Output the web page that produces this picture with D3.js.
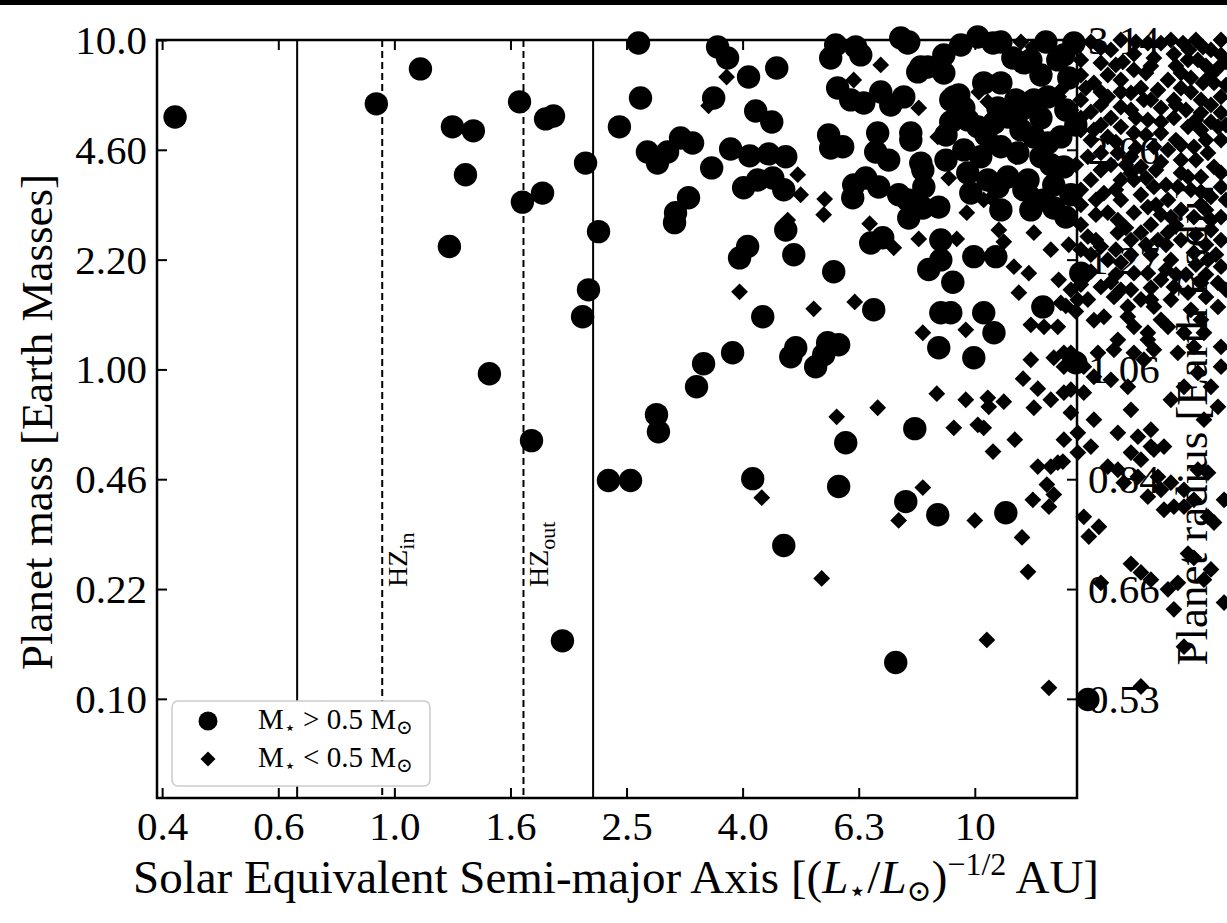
<!DOCTYPE html>
<html>
<head>
<meta charset="utf-8">
<script src="https://cdn.jsdelivr.net/npm/d3@7"></script>
<style>
  html, body { margin: 0; padding: 0; background: #fff; }
  svg { display: block; }
</style>
</head>
<body>
<svg id="chart" width="1227" height="923"></svg>
<script>
// ---- axis ticks ----
const xTickValues = [0.398, 0.631, 1.0, 1.585, 2.512, 3.981, 6.31, 10.0];
const xTickLabels = ["0.4", "0.6", "1.0", "1.6", "2.5", "4.0", "6.3", "10"];
const massTickValues = [0.1, 0.2154, 0.4642, 1.0, 2.154, 4.642, 10.0];
const massTickLabels = ["0.10", "0.22", "0.46", "1.00", "2.20", "4.60", "10.0"];
const radiusTickLabels = ["0.53", "0.66", "0.84", "1.06", "1.27", "2.06", "3.14"];

// ---- reference orbits (solar-equivalent AU) ----
const solidLines = [0.68, 2.2];
const hzLines = [0.953, 1.669];
const hzNames = ["in", "out"];

// ---- planets around hosts with M* > 0.5 Msun: [a_eq (AU), mass (Earth)] ----
const massiveHostPlanets = [
  [0.419,5.84],[0.931,6.40],[1.109,8.17],[1.259,5.45],[1.368,5.30],[1.326,3.90],[1.244,2.36],[1.458,0.97],
  [1.643,6.49],[1.662,3.22],[1.723,0.608],[1.822,5.76],[1.880,5.88],[1.800,3.43],[1.948,0.150],[2.135,4.23],
  [2.248,2.62],[2.160,1.744],[2.110,1.445],[2.338,0.460],[2.552,0.460],[2.634,9.79],[2.655,6.67],[2.442,5.45],
  [2.729,4.57],[2.840,4.23],[2.956,4.57],[3.112,5.04],[3.264,4.87],[3.212,3.32],[3.051,2.99],[3.039,2.79],
  [3.521,4.09],[3.605,9.52],[3.750,8.82],[3.549,6.67],[4.076,7.72],[4.558,8.22],[4.193,6.09],[4.469,5.64],
  [3.796,4.67],[4.095,4.45],[4.415,4.51],[4.724,4.42],[3.997,3.56],[4.226,3.76],[4.487,3.81],[4.687,3.51],
  [4.724,2.65],[4.061,2.36],[3.933,2.18],[4.877,2.23],[4.312,1.445],[5.714,1.98],[3.826,1.123],[3.410,1.040],
  [3.316,0.886],[2.829,0.729],[2.851,0.647],[4.915,1.163],[4.819,1.092],[5.578,1.205],[5.827,1.188],[5.491,1.108],
  [5.319,1.019],[4.144,0.466],[4.687,0.292],[5.827,0.441],[5.993,0.599],[6.697,1.517],[7.882,0.661],[7.605,0.397],
  [8.634,0.362],[11.31,0.367],[7.308,0.1289],[15.66,0.0995],[5.759,9.66],[5.646,8.82],[6.235,9.52],[6.361,9.01],
  [7.456,10.14],[7.695,9.86],[5.804,7.15],[6.113,6.58],[6.437,6.44],[6.886,6.95],[7.165,6.35],[7.545,6.72],
  [7.975,8.00],[8.298,8.28],[8.844,9.01],[9.092,6.58],[9.383,6.81],[10.12,10.21],[10.75,9.79],[5.600,5.15],
  [5.646,4.70],[5.922,4.74],[6.803,5.22],[6.750,4.57],[7.106,4.32],[7.758,4.97],[8.137,4.03],[6.186,3.63],
  [6.488,3.81],[6.830,3.58],[7.394,3.39],[6.162,3.32],[7.695,2.88],[8.137,3.09],[8.668,3.11],[6.618,2.42],
  [6.941,2.51],[8.739,2.47],[8.739,2.15],[8.330,2.01],[9.165,1.84],[8.739,1.486],[9.092,1.486],[8.668,1.163],
  [9.961,2.20],[10.87,2.20],[10.36,1.486],[10.79,1.292],[9.961,1.085],[13.10,1.548],[13.68,3.09],[14.35,2.90],
  [14.24,4.12],[12.15,8.52],[7.665,9.79],[8.072,8.28],[8.844,7.94],[9.201,6.72],[10.36,7.41],[9.725,5.72],
  [10.12,5.45],[10.79,5.60],[11.40,5.84],[12.01,5.33],[12.64,5.08],[13.36,4.87],[14.07,5.08],[9.574,4.64],
  [10.24,4.42],[11.09,4.74],[11.86,4.54],[13.00,4.42],[9.725,3.95],[10.53,3.76],[11.40,3.84],[12.35,3.76],
  [9.843,3.43],[10.96,3.58],[12.15,3.51],[13.16,3.27],[14.82,9.79],[14.24,9.01],[15.23,1.96],[14.93,1.048],
  [7.758,5.22],[8.072,4.23],[8.169,3.58],[7.665,3.27],[13.36,6.72],[11.09,7.41],[13.90,8.70],[12.49,8.70],
  [11.09,9.86],[9.46,9.66],[13.26,9.86],[11.63,8.82],[13.00,7.83],[14.52,7.67],[11.77,6.58],[12.64,6.58],
  [14.35,6.13],[14.93,5.52],[9.09,5.64],[8.92,4.32],[13.68,3.63],[14.64,3.39],[11.09,3.05],[12.49,3.05],
  [9.574,6.22],[10.96,6.22],[13.00,5.80],[10.45,5.15],[13.52,4.18],[12.01,6.13],[8.92,5.15]
];

// ---- planets around hosts with M* < 0.5 Msun: [a_eq (AU), mass (Earth)] ----
const dwarfHostPlanets = [
  [3.736,7.72],[3.478,6.31],[4.954,3.90],[5.012,3.39],[5.513,3.29],[5.491,2.95],[4.761,2.84],[6.590,2.77],
  [7.251,2.34],[8.006,2.49],[8.634,5.08],[9.019,3.81],[9.687,2.99],[9.310,2.49],[11.00,2.65],[11.22,2.44],
  [12.64,2.60],[11.68,2.05],[12.39,1.96],[11.91,1.71],[14.35,1.56],[8.137,1.292],[9.649,1.319],[3.933,1.720],
  [5.278,1.527],[6.211,1.603],[8.601,0.844],[6.886,8.40],[6.186,7.56],[8.006,6.22],[10.53,6.49],[13.16,7.89],
  [12.01,9.86],[12.59,9.52],[13.95,6.72],[14.07,8.70],[13.00,4.57],[12.15,3.71],[12.59,3.46],[11.77,4.42],
  [10.53,4.74],[10.36,3.27],[10.66,3.32],[10.16,6.95],[9.649,0.809],[10.53,0.820],[10.57,0.770],[12.49,1.070],
  [12.11,0.937],[12.84,0.874],[13.52,0.809],[14.24,0.850],[12.64,0.765],[5.782,0.718],[6.803,0.765],[9.201,0.665],
  [10.12,0.679],[10.36,0.665],[11.72,0.612],[10.75,0.563],[12.84,0.507],[13.52,0.507],[14.18,0.525],[13.31,0.447],
  [13.68,0.417],[12.59,0.402],[13.42,0.383],[8.137,0.438],[4.295,0.408],[7.394,0.348],[10.00,0.348],[12.06,0.309],
  [12.35,0.243],[5.448,0.232],[10.49,0.151],[13.42,0.108],[12.49,1.366],[13.16,1.347],[13.90,1.347],[13.68,1.085],
  [14.24,1.123],[11.22,0.798],[13.52,2.31],[14.52,2.39],[13.95,1.87],[14.64,1.744],
  [26.56,10.0],[26.56,9.01],[26.24,8.22],[24.73,9.52],[24.23,8.70],[22.84,9.79],[23.30,8.70],[22.03,9.06],
  [20.93,9.79],[20.35,8.82],[19.87,9.79],[18.80,9.06],[17.99,8.58],[18.80,8.11],[17.16,9.33],[16.49,8.52],
  [16.95,7.83],[25.83,7.41],[24.73,7.41],[26.56,6.72],[23.57,6.95],[22.03,6.58],[21.52,7.56],[20.68,7.05],
  [19.56,6.58],[18.58,6.91],[17.85,6.26],[16.95,6.72],[16.04,7.41],[15.23,6.58],[14.64,6.13],[14.07,7.05],
  [26.56,6.01],[26.24,5.45],[24.53,6.01],[23.30,5.45],[22.03,5.80],[20.93,5.22],[19.87,5.72],[18.80,5.22],
  [17.85,5.45],[16.95,5.08],[16.04,5.33],[26.56,4.97],[25.22,4.54],[23.85,4.74],[22.66,4.32],[21.52,4.64],
  [20.35,4.74],[19.33,4.12],[18.58,4.42],[17.64,4.54],[16.49,4.54],[15.66,4.42],[25.83,4.12],[24.53,3.84],
  [26.56,3.58],[25.52,3.34],[23.30,3.84],[22.38,3.58],[21.52,3.27],[20.35,3.58],[18.80,3.76],[17.85,3.76],
  [16.69,3.43],[19.87,3.11],[18.80,2.99],[17.64,2.84],[16.95,2.99],[26.56,2.90],[25.52,2.65],[23.85,2.90],
  [21.52,2.60],[22.66,2.47],[20.68,2.47],[19.33,2.60],[18.58,2.47],[17.64,2.60],[16.49,2.36],[15.66,2.53],
  [16.95,2.15],[17.85,2.11],[18.80,1.96],[19.87,1.96],[20.93,1.87],[22.03,1.78],[23.30,1.71],[24.53,1.83],
  [26.24,1.83],[26.56,2.05],[25.22,2.15],[23.85,2.26],[16.49,1.78],[17.37,1.66],[18.35,1.55],[19.33,1.63],
  [20.35,1.55],[15.66,1.63],[16.04,1.41],[16.69,1.445],[18.80,1.347],[19.87,1.292],[21.52,1.347],[22.93,1.292],
  [24.53,1.414],[26.24,1.548],[26.56,1.171],[23.85,1.171],[22.38,1.123],[20.35,1.147],[18.80,1.123],[17.37,1.147],
  [14.07,1.592],[15.05,1.626],[18.58,1.744],[18.35,1.445],[20.11,1.626],[20.93,1.414],[19.87,1.230],[23.57,1.517],
  [24.82,1.292],[26.56,1.019],[24.23,0.977],[25.52,0.886],[26.24,0.770],[24.82,0.704],[17.64,1.230],[19.56,1.070],
  [16.30,1.123],[15.41,1.019],[14.64,1.123],[14.24,1.019],[17.16,0.930],[16.04,0.950],[18.35,0.886],[14.64,0.868],
  [15.41,0.850],[14.64,0.739],[16.04,0.704],[18.58,0.754],[17.64,0.642],[19.10,0.625],[20.11,0.656],[20.11,0.583],
  [15.05,0.642],[14.24,0.612],[15.05,0.559],[22.93,0.886],[21.77,0.809],
  [13.90,0.521],[15.85,0.583],[16.95,0.507],[17.64,0.496],[18.58,0.559],[18.06,0.453],[19.10,0.472],[19.33,0.532],
  [20.35,0.571],[21.18,0.583],[19.87,0.411],[20.93,0.431],[21.18,0.375],[22.03,0.383],[22.93,0.383],[23.85,0.402],
  [20.68,0.472],[21.77,0.453],[22.93,0.431],[25.22,0.486],[24.23,0.496],[25.83,0.343],[25.22,0.357],[26.88,0.402],
  [15.41,0.357],[16.36,0.333],[15.72,0.311],[18.58,0.257],[19.33,0.242],[20.11,0.230],[16.49,0.225],[21.52,0.215],
  [22.38,0.225],[22.03,0.187],[23.30,0.276],[23.85,0.268],[25.52,0.247],[24.82,0.230],[22.93,0.144],[26.88,0.196],
  [19.33,0.109],
  [15.85,9.86],[17.85,10.0],[24.04,10.0],[25.52,9.33],[19.72,7.94],[22.66,7.94],[17.85,7.56],[15.23,7.83],
  [25.52,7.83],[16.49,6.95],[19.33,7.15],[22.66,7.15],[24.53,6.58],[15.85,6.05],[17.16,5.80],[18.95,5.80],
  [20.93,6.22],[23.11,6.13],[25.52,5.64],[15.23,5.33],[19.72,5.15],[22.21,4.97],[24.53,5.33],[14.93,4.18],
  [17.16,4.18],[18.21,4.18],[20.93,4.26],[24.04,4.32],[15.85,3.76],[19.72,3.81],[21.35,3.63],[24.53,3.46],
  [15.23,3.16],[16.17,2.95],[17.85,3.27],[20.93,2.95],[22.66,3.05],[25.02,3.05],[15.23,2.75],[20.11,2.75],
  [24.04,2.56],[26.56,2.47],[15.85,2.23],[18.58,2.23],[20.11,2.23],[21.77,2.15],[26.03,2.23],[15.85,1.98],
  [17.50,1.94],[23.11,1.94],[25.02,1.94],[14.93,1.50],[17.85,1.744],[21.77,1.626],[25.02,1.66],
  [16.49,9.46],[18.95,9.86],[21.77,10.0],[23.39,9.33],[27.09,8.58],[15.23,8.70],[17.50,8.40],[20.11,8.34],
  [22.21,8.34],[25.02,8.34],[15.54,7.15],[17.85,6.95],[20.11,6.58],[23.57,7.67],[27.09,7.30],[16.49,6.35],
  [18.58,6.13],[22.21,6.35],[25.52,6.35],[15.23,5.80],[16.49,5.52],[20.93,5.64],[24.04,5.72],[27.09,5.52],
  [15.85,4.97],[17.50,4.90],[18.95,4.70],[22.66,4.80],[25.02,4.97],[16.49,4.03],[18.58,3.95],[20.52,4.03],
  [22.66,3.95],[26.56,3.95],[15.23,3.51],[17.50,3.51],[19.33,3.39],[23.57,3.51],[27.09,3.27],[16.17,3.27],
  [20.52,3.16],[24.53,3.16],[21.77,2.90],[18.21,2.69],[22.21,2.73],[25.52,2.84],[16.17,2.47],[19.72,2.39],
  [21.35,2.39],[25.02,2.39],[15.23,2.31],[17.50,2.31],[21.35,2.01],[24.04,2.08],[15.23,1.81],[17.16,1.84],
  [20.11,1.77],[22.21,1.94],[27.09,1.744]
];

// ---- layout ----
const W = 1227, H = 923;
const plot = { left: 157, right: 1077, top: 40, bottom: 798 };
const serif = "'Liberation Serif', 'DejaVu Serif', serif";

const svg = d3.select("#chart");
svg.append("rect").attr("width", W).attr("height", H).attr("fill", "#fff");
svg.append("rect").attr("x", 0).attr("y", 0).attr("width", W).attr("height", 5).attr("fill", "#000");

const x = d3.scaleLog().domain([0.39, 15.0]).range([plot.left, plot.right]);
const y = d3.scaleLog().domain([0.05, 10]).range([plot.bottom, plot.top]);

// ---- reference orbit lines ----
const lines = svg.append("g");
solidLines.forEach(a => {
  lines.append("line")
    .attr("x1", x(a)).attr("x2", x(a)).attr("y1", plot.top).attr("y2", plot.bottom)
    .attr("stroke", "#000").attr("stroke-width", 2);
});
hzLines.forEach((a, i) => {
  lines.append("line")
    .attr("x1", x(a)).attr("x2", x(a)).attr("y1", plot.top).attr("y2", plot.bottom)
    .attr("stroke", "#000").attr("stroke-width", 2).attr("stroke-dasharray", "7,4");
  const t = lines.append("text")
    .attr("transform", `translate(${x(a) + 25},587) rotate(-90)`)
    .attr("font-family", serif).attr("font-size", 28).attr("fill", "#000");
  t.append("tspan").text("HZ");
  t.append("tspan").attr("font-size", 22).attr("dy", 7).text(hzNames[i]);
});

// ---- axes ----
const axes = svg.append("g").attr("font-family", serif);
const fmtX = (d, i) => xTickLabels[i];
const fmtM = (d, i) => massTickLabels[i];
const fmtR = (d, i) => radiusTickLabels[i];

const gBottom = axes.append("g").attr("transform", `translate(0,${plot.bottom})`)
  .call(d3.axisBottom(x).tickValues(xTickValues).tickFormat(fmtX).tickSizeInner(-10).tickSizeOuter(0).tickPadding(13));
const gTop = axes.append("g").attr("transform", `translate(0,${plot.top})`)
  .call(d3.axisTop(x).tickValues(xTickValues).tickFormat("").tickSizeInner(-10).tickSizeOuter(0));
const gLeft = axes.append("g").attr("transform", `translate(${plot.left},0)`)
  .call(d3.axisLeft(y).tickValues(massTickValues).tickFormat(fmtM).tickSizeInner(-10).tickSizeOuter(0).tickPadding(10));
const gRight = axes.append("g").attr("transform", `translate(${plot.right},0)`)
  .call(d3.axisRight(y).tickValues(massTickValues).tickFormat(fmtR).tickSizeInner(-10).tickSizeOuter(0).tickPadding(11));

[gBottom, gTop, gLeft, gRight].forEach(g => {
  g.select(".domain").remove();
  g.selectAll(".tick line").attr("stroke", "#000").attr("stroke-width", 2);
  g.selectAll(".tick text").attr("font-family", serif).attr("font-size", 41).attr("fill", "#000");
});
gLeft.selectAll(".tick text").attr("dy", "0.33em");
gRight.selectAll(".tick text").attr("dy", "0.33em");
gBottom.selectAll(".tick text").attr("dy", "0.71em");

// frame
axes.append("rect")
  .attr("x", plot.left).attr("y", plot.top)
  .attr("width", plot.right - plot.left).attr("height", plot.bottom - plot.top)
  .attr("fill", "none").attr("stroke", "#000").attr("stroke-width", 2.5);

// axis titles
axes.append("text")
  .attr("transform", `translate(52,${(plot.top + plot.bottom) / 2 + 3}) rotate(-90)`)
  .attr("text-anchor", "middle").attr("font-size", 45).attr("fill", "#000")
  .text("Planet mass [Earth Masses]");

axes.append("text")
  .attr("transform", `translate(1207,${(plot.top + plot.bottom) / 2 + 6}) rotate(-90)`)
  .attr("text-anchor", "middle").attr("font-size", 45).attr("fill", "#000")
  .text("Planet radius [Earth Radii]");

const xTitle = axes.append("text")
  .attr("x", 616).attr("y", 893).attr("text-anchor", "middle")
  .attr("font-size", 47).attr("fill", "#000");
xTitle.append("tspan").text("Solar Equivalent Semi-major Axis [(");
xTitle.append("tspan").attr("font-style", "italic").text("L");
xTitle.append("tspan").attr("font-size", 30).attr("dy", 8).text("⋆");
xTitle.append("tspan").attr("dy", -8).text("/");
xTitle.append("tspan").attr("font-style", "italic").text("L");
xTitle.append("tspan").attr("font-size", 30).attr("dy", 8).text("⊙");
xTitle.append("tspan").attr("dy", -8).text(")");
xTitle.append("tspan").attr("font-size", 32).attr("dy", -18).text("−1/2");
xTitle.append("tspan").attr("dy", 18).text(" AU]");

// ---- planets ----
const diamondPath = d3.symbol().type(d3.symbolSquare).size(141);
const marks = svg.append("g");
marks.selectAll("path.dwarf")
  .data(dwarfHostPlanets)
  .join("path")
  .attr("class", "dwarf")
  .attr("d", diamondPath)
  .attr("transform", d => `translate(${x(d[0])},${y(d[1])}) rotate(45)`)
  .attr("fill", "#000");
marks.selectAll("circle.massive")
  .data(massiveHostPlanets)
  .join("circle")
  .attr("class", "massive")
  .attr("cx", d => x(d[0]))
  .attr("cy", d => y(d[1]))
  .attr("r", 11.7)
  .attr("fill", "#000");

// ---- legend ----
const legend = svg.append("g").attr("font-family", serif);
legend.append("rect")
  .attr("x", 172).attr("y", 701).attr("width", 258).attr("height", 85).attr("rx", 6)
  .attr("fill", "#fff").attr("stroke", "#cccccc").attr("stroke-width", 1.5);
legend.append("circle").attr("cx", 208).attr("cy", 721).attr("r", 9.5).attr("fill", "#000");
legend.append("path").attr("d", d3.symbol().type(d3.symbolSquare).size(112))
  .attr("transform", "translate(208,759) rotate(45)").attr("fill", "#000");

function legendLabel(yBase, rel) {
  const t = legend.append("text").attr("x", 258).attr("y", yBase).attr("font-size", 29).attr("fill", "#000");
  t.append("tspan").text("M");
  t.append("tspan").attr("font-size", 19).attr("dy", 5).text("⋆");
  t.append("tspan").attr("dy", -5).text(` ${rel} 0.5 M`);
  t.append("tspan").attr("font-size", 20).attr("dy", 5).text("⊙");
}
legendLabel(729, ">");
legendLabel(767, "<");
</script>
</body>
</html>
